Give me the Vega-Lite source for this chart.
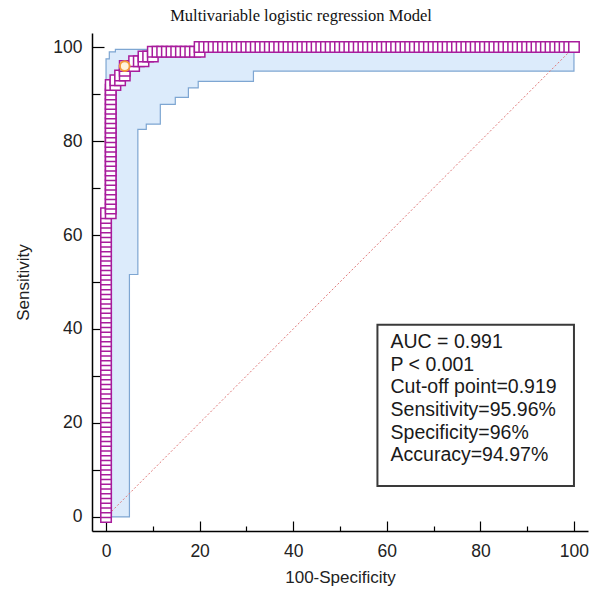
{
  "$schema": "https://vega.github.io/schema/vega-lite/v6.json",
  "width": 496,
  "height": 498,
  "autosize": {"type": "none"},
  "padding": {"left": 92, "top": 33, "right": 2, "bottom": 58},
  "background": "white",
  "title": {"text": "Multivariable logistic regression Model", "font": "Liberation Serif", "fontSize": 16.5, "fontWeight": "normal", "color": "#111111", "anchor": "middle", "dx": -39, "offset": 9},
  "config": {
    "view": {"stroke": null},
    "axis": {"grid": false, "domainColor": "#000000", "domainWidth": 1.5, "tickColor": "#000000", "tickWidth": 1.2, "labelFont": "Liberation Sans", "labelFontSize": 17.5, "labelColor": "#222222", "titleFont": "Liberation Sans", "titleFontSize": 17, "titleFontWeight": "normal", "titleColor": "#222222", "labelFlush": false, "labelOverlap": false}
  },
  "datasets": {
    "band": [
      {"x": 0, "upper": 97.5, "lower": 0},
      {"x": 0.7, "upper": 99, "lower": 0},
      {"x": 2, "upper": 99.5, "lower": 0},
      {"x": 5, "upper": 99.5, "lower": 51.6},
      {"x": 6.8, "upper": 99.5, "lower": 82.5},
      {"x": 8.6, "upper": 99.5, "lower": 83.6},
      {"x": 9, "upper": 100, "lower": 83.6},
      {"x": 11.6, "upper": 100, "lower": 87.8},
      {"x": 14.8, "upper": 100, "lower": 89.3},
      {"x": 17.6, "upper": 100, "lower": 91.3},
      {"x": 19.7, "upper": 100, "lower": 92.7},
      {"x": 31.5, "upper": 100, "lower": 94.9},
      {"x": 100, "upper": 100, "lower": 94.9}
    ],
    "diag": [{"x": 0, "y": 0}, {"x": 100, "y": 100}],
    "cut": [{"x": 4, "y": 95.96}],
    "roc": [
      {"x":0,"y":0},{"x":0,"y":1.01},{"x":0,"y":2.02},{"x":0,"y":3.03},{"x":0,"y":4.04},{"x":0,"y":5.05},{"x":0,"y":6.06},{"x":0,"y":7.07},{"x":0,"y":8.08},{"x":0,"y":9.09},
      {"x":0,"y":10.1},{"x":0,"y":11.11},{"x":0,"y":12.12},{"x":0,"y":13.13},{"x":0,"y":14.14},{"x":0,"y":15.15},{"x":0,"y":16.16},{"x":0,"y":17.17},{"x":0,"y":18.18},{"x":0,"y":19.19},
      {"x":0,"y":20.2},{"x":0,"y":21.21},{"x":0,"y":22.22},{"x":0,"y":23.23},{"x":0,"y":24.24},{"x":0,"y":25.25},{"x":0,"y":26.26},{"x":0,"y":27.27},{"x":0,"y":28.28},{"x":0,"y":29.29},
      {"x":0,"y":30.3},{"x":0,"y":31.31},{"x":0,"y":32.32},{"x":0,"y":33.33},{"x":0,"y":34.34},{"x":0,"y":35.35},{"x":0,"y":36.36},{"x":0,"y":37.37},{"x":0,"y":38.38},{"x":0,"y":39.39},
      {"x":0,"y":40.4},{"x":0,"y":41.41},{"x":0,"y":42.42},{"x":0,"y":43.43},{"x":0,"y":44.44},{"x":0,"y":45.45},{"x":0,"y":46.46},{"x":0,"y":47.47},{"x":0,"y":48.48},{"x":0,"y":49.49},
      {"x":0,"y":50.51},{"x":0,"y":51.52},{"x":0,"y":52.53},{"x":0,"y":53.54},{"x":0,"y":54.55},{"x":0,"y":55.56},{"x":0,"y":56.57},{"x":0,"y":57.58},{"x":0,"y":58.59},{"x":0,"y":59.6},
      {"x":0,"y":60.61},{"x":0,"y":61.62},{"x":0,"y":62.63},{"x":0,"y":63.64},{"x":0,"y":64.65},
      {"x":1,"y":64.65},{"x":1,"y":65.66},{"x":1,"y":66.67},{"x":1,"y":67.68},{"x":1,"y":68.69},{"x":1,"y":69.7},{"x":1,"y":70.71},{"x":1,"y":71.72},{"x":1,"y":72.73},{"x":1,"y":73.74},
      {"x":1,"y":74.75},{"x":1,"y":75.76},{"x":1,"y":76.77},{"x":1,"y":77.78},{"x":1,"y":78.79},{"x":1,"y":79.8},{"x":1,"y":80.81},{"x":1,"y":81.82},{"x":1,"y":82.83},{"x":1,"y":83.84},
      {"x":1,"y":84.85},{"x":1,"y":85.86},{"x":1,"y":86.87},{"x":1,"y":87.88},{"x":1,"y":88.89},{"x":1,"y":89.9},{"x":1,"y":90.91},{"x":1,"y":91.92},
      {"x":2,"y":91.92},{"x":2,"y":92.93},{"x":3,"y":92.93},{"x":3,"y":93.94},{"x":4,"y":93.94},{"x":4,"y":94.95},{"x":4,"y":95.96},
      {"x":5,"y":95.96},{"x":6,"y":95.96},{"x":6,"y":96.97},{"x":7,"y":96.97},{"x":8,"y":96.97},{"x":8,"y":97.98},{"x":9,"y":97.98},{"x":10,"y":97.98},{"x":10,"y":98.99},
      {"x":11,"y":98.99},{"x":12,"y":98.99},{"x":13,"y":98.99},{"x":14,"y":98.99},{"x":15,"y":98.99},{"x":16,"y":98.99},{"x":17,"y":98.99},{"x":18,"y":98.99},{"x":19,"y":98.99},{"x":20,"y":98.99},
      {"x":20,"y":100},{"x":21,"y":100},{"x":22,"y":100},{"x":23,"y":100},{"x":24,"y":100},{"x":25,"y":100},{"x":26,"y":100},{"x":27,"y":100},{"x":28,"y":100},{"x":29,"y":100},
      {"x":30,"y":100},{"x":31,"y":100},{"x":32,"y":100},{"x":33,"y":100},{"x":34,"y":100},{"x":35,"y":100},{"x":36,"y":100},{"x":37,"y":100},{"x":38,"y":100},{"x":39,"y":100},
      {"x":40,"y":100},{"x":41,"y":100},{"x":42,"y":100},{"x":43,"y":100},{"x":44,"y":100},{"x":45,"y":100},{"x":46,"y":100},{"x":47,"y":100},{"x":48,"y":100},{"x":49,"y":100},
      {"x":50,"y":100},{"x":51,"y":100},{"x":52,"y":100},{"x":53,"y":100},{"x":54,"y":100},{"x":55,"y":100},{"x":56,"y":100},{"x":57,"y":100},{"x":58,"y":100},{"x":59,"y":100},
      {"x":60,"y":100},{"x":61,"y":100},{"x":62,"y":100},{"x":63,"y":100},{"x":64,"y":100},{"x":65,"y":100},{"x":66,"y":100},{"x":67,"y":100},{"x":68,"y":100},{"x":69,"y":100},
      {"x":70,"y":100},{"x":71,"y":100},{"x":72,"y":100},{"x":73,"y":100},{"x":74,"y":100},{"x":75,"y":100},{"x":76,"y":100},{"x":77,"y":100},{"x":78,"y":100},{"x":79,"y":100},
      {"x":80,"y":100},{"x":81,"y":100},{"x":82,"y":100},{"x":83,"y":100},{"x":84,"y":100},{"x":85,"y":100},{"x":86,"y":100},{"x":87,"y":100},{"x":88,"y":100},{"x":89,"y":100},
      {"x":90,"y":100},{"x":91,"y":100},{"x":92,"y":100},{"x":93,"y":100},{"x":94,"y":100},{"x":95,"y":100},{"x":96,"y":100},{"x":97,"y":100},{"x":98,"y":100},{"x":99,"y":100},
      {"x":100,"y":100}
    ]
  },
  "layer": [
    {
      "data": {"name": "band"},
      "mark": {"type": "area", "interpolate": "step-after", "fill": "#dcebfb", "stroke": "#7ea6d2", "strokeWidth": 1.2},
      "encoding": {
        "x": {"field": "x", "type": "quantitative", "scale": {"domain": [-3, 103], "nice": false, "zero": false},
          "axis": {"title": "100-Specificity", "values": [0,5,10,15,20,25,30,35,40,45,50,55,60,65,70,75,80,85,90,95,100],
            "labelExpr": "datum.value % 20 === 0 ? datum.label : ''",
            "tickSize": {"condition": {"test": "datum.value % 20 === 0", "value": -10}, "value": -5},
            "labelPadding": 21, "titlePadding": 5}},
        "y": {"field": "upper", "type": "quantitative", "scale": {"domain": [-3, 103], "nice": false, "zero": false},
          "axis": {"title": "Sensitivity", "values": [0,5,10,15,20,25,30,35,40,45,50,55,60,65,70,75,80,85,90,95,100],
            "labelExpr": "datum.value % 20 === 0 ? datum.label : ''",
            "tickSize": {"condition": {"test": "datum.value % 20 === 0", "value": -12}, "value": -8},
            "labelPadding": 22, "titlePadding": 20}},
        "y2": {"field": "lower"}
      }
    },
    {
      "data": {"name": "diag"},
      "mark": {"type": "line", "color": "#e07a7a", "strokeWidth": 1, "strokeDash": [2, 2]},
      "encoding": {
        "x": {"field": "x", "type": "quantitative"},
        "y": {"field": "y", "type": "quantitative"}
      }
    },
    {
      "data": {"name": "roc"},
      "mark": {"type": "point", "shape": "square", "filled": true, "fill": "white", "stroke": "#a81c9c", "strokeWidth": 1.5, "size": 110, "opacity": 1},
      "encoding": {
        "x": {"field": "x", "type": "quantitative"},
        "y": {"field": "y", "type": "quantitative"}
      }
    },
    {
      "data": {"name": "cut"},
      "mark": {"type": "point", "shape": "circle", "filled": true, "fill": "#fff3dc", "stroke": "#f39a3a", "strokeWidth": 2, "size": 95, "opacity": 1},
      "encoding": {
        "x": {"field": "x", "type": "quantitative"},
        "y": {"field": "y", "type": "quantitative"}
      }
    },
    {
      "data": {"values": [{}]},
      "mark": {"type": "rect", "fill": "white", "stroke": "#3a3a3a", "strokeWidth": 2},
      "encoding": {
        "x": {"datum": 58},
        "x2": {"datum": 100},
        "y": {"datum": 40.9},
        "y2": {"datum": 6.6}
      }
    },
    {
      "data": {"values": [{}]},
      "mark": {"type": "text", "text": ["AUC = 0.991", "P < 0.001", "Cut-off point=0.919", "Sensitivity=95.96%", "Specificity=96%", "Accuracy=94.97%"], "font": "Liberation Sans", "fontSize": 19.5, "lineHeight": 22.6, "align": "left", "baseline": "top", "color": "#1a1a1a"},
      "encoding": {
        "x": {"datum": 60.8},
        "y": {"datum": 39.1}
      }
    }
  ]
}
